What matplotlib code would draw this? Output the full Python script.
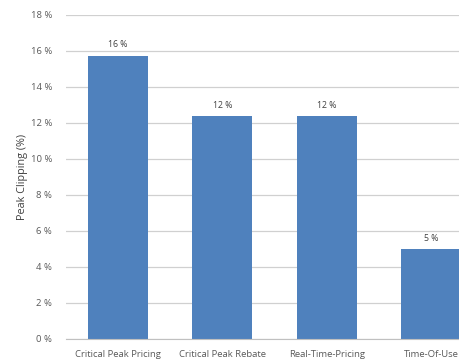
import numpy as np
import matplotlib.pyplot as plt

# data
programs = ['Critical Peak Pricing', 'Critical Peak Rebate', 'Real-Time-Pricing', 'Time-Of-Use']
clipping = [15.75, 12.4, 12.4, 5.0]
labels = ['16 %', '12 %', '12 %', '5 %']
yticks = [0, 2, 4, 6, 8, 10, 12, 14, 16, 18]

plt.rcParams['font.family'] = ['Open Sans', 'DejaVu Sans']

fig = plt.figure(figsize=(4.6, 3.63), dpi=100)
# plot area runs past the right edge, as in the cropped original
ax = fig.add_axes([66/460, 24/363, 417/460, 324/363])

x = np.arange(len(programs))
bars = ax.bar(x, clipping, width=0.575, color='#4F81BD', zorder=3)
for bar, lab in zip(bars, labels):
	ax.text(bar.get_x() + bar.get_width()/2, bar.get_height() + 0.35, lab,
			ha='center', va='bottom', fontsize=6.3, color='#404040')

ax.set_xlim(-0.5, len(programs) - 0.5)
ax.set_ylim(0, 18)
ax.set_yticks(yticks)
ax.set_yticklabels([f'{t} %' for t in yticks])
ax.set_xticks(x)
ax.set_xticklabels(programs)
ax.tick_params(axis='both', length=0, labelsize=6.8, colors='#595959')
ax.tick_params(axis='y', pad=10)
ax.tick_params(axis='x', pad=8)

ax.grid(axis='y', color='#D0D0D0', linewidth=0.9, zorder=0)
for side in ['left', 'right', 'top']:
	ax.spines[side].set_visible(False)
ax.spines['bottom'].set_color('#C0C0C0')
ax.spines['bottom'].set_zorder(4)

ax.set_ylabel('Peak Clipping (%)', fontsize=7.8, color='#404040', labelpad=2)

plt.savefig('out.png', dpi=100)
